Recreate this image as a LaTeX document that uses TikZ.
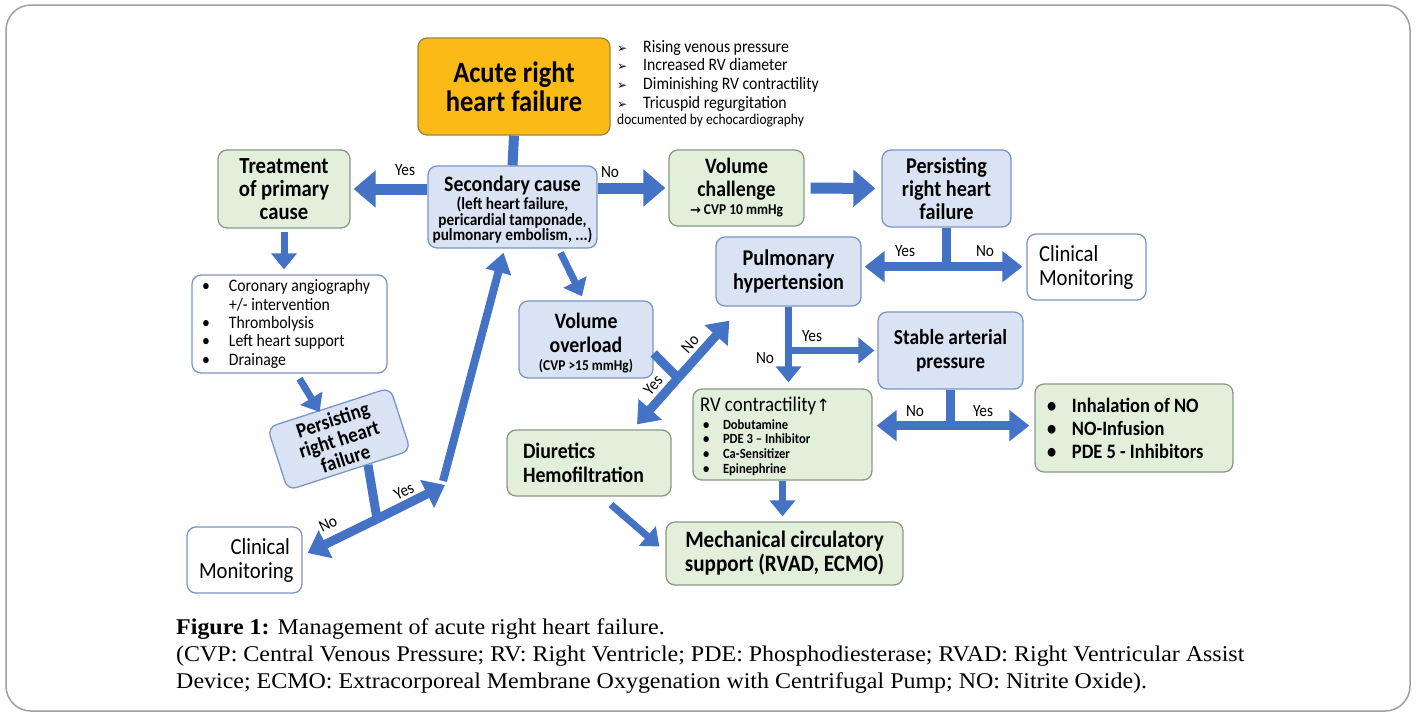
\documentclass[tikz,border=0pt]{standalone}
\usepackage{fontspec}
\setmainfont[FakeStretch=0.9]{Carlito}
\newfontfamily\capfont[FakeStretch=1.065]{Liberation Serif}
\newfontfamily\symfont{DejaVu Sans}
\usetikzlibrary{arrows.meta,calc}

\definecolor{arrblue}{HTML}{4472C4}
\definecolor{boxblue}{HTML}{DAE3F3}
\definecolor{lineblue}{HTML}{7A96C4}
\definecolor{boxgreen}{HTML}{E2EFDA}
\definecolor{linegreen}{HTML}{8A9A86}
\definecolor{boxorange}{HTML}{FBBA16}
\definecolor{lineorange}{HTML}{9A8642}

\newcommand{\fsz}[2]{\fontsize{#1}{#2}\selectfont}
\newcommand{\sgn}{\makebox[26pt][l]{\symfont\fsz{12}{12}➢}}
\newcommand{\bul}[1]{\makebox[#1][l]{\hspace{3pt}•}}

\tikzset{
box/.style={draw, rounded corners=9pt, line width=1.3pt, align=center,
  inner sep=2pt},
bluebox/.style={box, fill=boxblue, draw=lineblue},
greenbox/.style={box, fill=boxgreen, draw=linegreen},
whitebox/.style={box, fill=white, draw=lineblue},
bigarr/.style={draw=arrblue, line width=11pt, -{Triangle[length=22pt,width=36pt]}},
tarr/.style={draw=arrblue, line width=9pt, -{Triangle[length=20pt,width=30pt]}},
longarr/.style={draw=arrblue, line width=8pt, -{Triangle[length=20pt,width=25pt]}},
smallarr/.style={draw=arrblue, line width=7pt, -{Triangle[length=16pt,width=25pt]}},
stem/.style={draw=arrblue, line width=9pt},
lbl/.style={font=\fsz{17}{18}, inner sep=0pt}
}

\begin{document}
\begin{tikzpicture}[x=1pt, y=-1pt]
\useasboundingbox (0,0) rectangle (1416,713);
\draw[gray!75, line width=1.5pt, rounded corners=25pt] (6,5) rectangle (1410,711);

% boxes
\node[box, fill=boxorange, draw=lineorange, minimum width=192pt, minimum height=97pt,
  font=\bfseries\fsz{29.5}{29}] (acute) at (514,86.5) {Acute right\\heart failure};
\node[anchor=north west, align=flush left, inner sep=0pt, font=\fsz{17.5}{18.7}] (signs) at (617,40)
  {\sgn Rising venous pressure\\ \sgn Increased RV diameter\\
   \sgn Diminishing RV contractility\\ \sgn Tricuspid regurgitation\\[-3pt]
   {\fsz{15}{16}documented by echocardiography}};
\node[bluebox, minimum width=169pt, minimum height=82pt, font=\bfseries\fsz{17}{15.5}]
  (secondary) at (512.5,207)
  {\mbox{}\\[6pt]{\fsz{22}{22}Secondary cause}\\[1pt]
   (left heart failure,\\pericardial tamponade,\\pulmonary embolism, ...)};
\node[greenbox, minimum width=132pt, minimum height=78pt, font=\bfseries\fsz{23}{23}]
  (treat) at (284,189) {Treatment\\of primary\\cause};
\node[whitebox, minimum width=195pt, minimum height=98pt, align=flush left, text width=181pt,
  inner xsep=7pt, font=\fsz{17.5}{18.3}] (coronary) at (289.5,324)
  {\bul{30pt}Coronary angiography\\ \hspace*{30pt}+/- intervention\\
   \bul{30pt}Thrombolysis\\ \bul{30pt}Left heart support\\ \bul{30pt}Drainage};
\node[bluebox, rotate=18, minimum width=129pt, minimum height=66pt, inner sep=0pt,
  font=\bfseries\fsz{21}{20.5}] (pers1) at (339,439) {Persisting\\right heart\\failure};
\node[whitebox, minimum width=115pt, minimum height=66pt, align=flush right, text width=91pt,
  inner xsep=12pt, font=\fsz{23}{24}] (clin1) at (244.5,560) {Clinical\\Monitoring};
\node[greenbox, minimum width=135pt, minimum height=76pt, font=\bfseries\fsz{22}{23}]
  (volch) at (736.5,188)
  {Volume\\challenge\\[-5pt]{\fsz{15}{15}{\symfont\bfseries\fsz{13}{15}→} CVP 10 mmHg}};
\node[bluebox, minimum width=129pt, minimum height=77pt, font=\bfseries\fsz{22.5}{23}]
  (pers2) at (946.5,188.5) {Persisting\\right heart\\failure};
\node[bluebox, minimum width=145pt, minimum height=69pt, font=\bfseries\fsz{22.5}{24}]
  (pulm) at (788.5,271.5) {Pulmonary\\hypertension};
\node[whitebox, minimum width=119pt, minimum height=66pt, align=flush left, text width=95pt,
  inner xsep=12pt, font=\fsz{23}{24}] (clin2) at (1086.5,267) {Clinical\\Monitoring};
\node[bluebox, minimum width=134pt, minimum height=77pt, font=\bfseries\fsz{22}{24}]
  (volov) at (586,339.5)
  {\mbox{}\\[-1.5pt]Volume\\overload\\[-6pt]{\fsz{15}{15}(CVP >15 mmHg)}};
\node[bluebox, minimum width=145pt, minimum height=77pt, font=\bfseries\fsz{21.5}{24}]
  (stable) at (950.5,350.5) {Stable arterial\\pressure};
\node[greenbox, minimum width=179pt, minimum height=91pt, align=flush left, text width=165pt,
  inner xsep=7pt, font=\bfseries\fsz{14}{14.7}] (rvc) at (782.5,434.5)
  {\mbox{}\\[3pt]{\mdseries\fsz{21}{20}RV contractility{\symfont\fsz{17}{20}↑}}\\[3pt]
   \bul{23pt}Dobutamine\\ \bul{23pt}PDE 3 – Inhibitor\\
   \bul{23pt}Ca-Sensitizer\\ \bul{23pt}Epinephrine};
\node[greenbox, minimum width=198pt, minimum height=88pt, align=flush left, text width=180pt,
  inner xsep=9pt, font=\bfseries\fsz{20.5}{23}] (inhal) at (1134,428)
  {\bul{28pt}Inhalation of NO\\ \bul{28pt}NO-Infusion\\ \bul{28pt}PDE 5 - Inhibitors};
\node[greenbox, minimum width=158pt, minimum height=66pt, align=flush left, text width=132pt,
  inner xsep=16pt, font=\bfseries\fsz{22}{24}] (diur) at (589,463)
  {Diuretics\\Hemofiltration};
\node[greenbox, minimum width=237pt, minimum height=63pt, font=\bfseries\fsz{23.5}{24}]
  (mech) at (784.5,553.5) {Mechanical circulatory\\support (RVAD, ECMO)};

% connectors
\draw[stem, line width=10pt] (acute.south) -- (secondary.north);
\draw[bigarr] (secondary.west |- treat) -- ([xshift=3pt]treat.east);
\draw[bigarr] (secondary.east |- volch) -- ([xshift=-3pt]volch.west);
\node[lbl] at (405,170) {Yes};
\node[lbl] at (610,172) {No};
\draw[bigarr, shorten <=6pt, shorten >=6pt] (volch.east) -- (pers2.west);
\draw[smallarr, shorten <=3pt, shorten >=5pt] (treat.south) -- (treat.south |- coronary.north);
\draw[smallarr] ([shift={(10,5)}]coronary.south) -- ([shift={(-9,5)}]pers1.north);

\coordinate (nojct) at (377,519);
\coordinate (yesend) at (445,485);
\draw[stem] ($(pers1.south)!0.3!(pers1.south east)$) -- (nojct);
\draw[tarr] (nojct) -- ([shift={(5,-7)}]clin1.east);
\draw[tarr] (nojct) -- (yesend);
\draw[longarr] ([shift={(-2,-4)}]yesend) -- ([shift={(-9,4)}]secondary.south);
\node[lbl, rotate=26] at (328,524) {No};
\node[lbl, rotate=26] at (404,491) {Yes};

\draw[smallarr] ([shift={(48,4)}]secondary.south) -- ([shift={(-4,-4)}]volov.north);

\coordinate (pj) at ($(pers2.south)+(0,39)$);
\draw[stem] (pers2.south) -- (pj);
\draw[tarr, shorten >=3pt] (pj) -- (pulm.east |- pj);
\draw[tarr, shorten >=4pt] (pj) -- (clin2.west |- pj);
\node[lbl] at (905,251) {Yes};
\node[lbl] at (985,251) {No};

\coordinate (vj) at (678,378);
\draw[stem] ([shift={(0,14)}]volov.east) -- (vj);
\draw[tarr] (vj) -- ([shift={(48,-5)}]diur.north);
\draw[tarr] (vj) -- ([shift={(14,14)}]pulm.south west);
\node[lbl, rotate=48] at (653,385) {Yes};
\node[lbl, rotate=48] at (690,344) {No};

\coordinate (ps) at (pulm.south |- stable);
\draw[smallarr, shorten >=6pt] (pulm.south) -- (pulm.south |- rvc.north);
\draw[smallarr, shorten >=3pt] (ps) -- (stable.west |- ps);
\node[lbl] at (812,336) {Yes};
\node[lbl] at (765,358) {No};

\coordinate (sj) at ($(stable.south)+(0,36)$);
\draw[stem] (stable.south) -- (sj);
\draw[tarr, shorten >=4pt] (sj) -- (rvc.east |- sj);
\draw[tarr, shorten >=5pt] (sj) -- (inhal.west |- sj);
\node[lbl] at (915,411) {No};
\node[lbl] at (983,411) {Yes};

\draw[smallarr, shorten >=5pt] (rvc.south) -- (rvc.south |- mech.north);
\draw[smallarr] ([shift={(22,8)}]diur.south) -- ([shift={(-6,-7)}]mech.west);

% caption
\node[anchor=base west, inner sep=0pt, font=\capfont\fsz{22.5}{27}] (cap1) at (176,634)
  {\textbf{Figure 1:} Management of acute right heart failure.};
\node[anchor=base west, inner sep=0pt, font=\capfont\fsz{22.5}{27}] (cap2) at (176,661)
  {(CVP: Central Venous Pressure; RV: Right Ventricle; PDE: Phosphodiesterase; RVAD: Right Ventricular Assist};
\node[anchor=base west, inner sep=0pt, font=\capfont\fsz{22.5}{27}] (cap3) at (176,688)
  {Device; ECMO: Extracorporeal Membrane Oxygenation with Centrifugal Pump; NO: Nitrite Oxide).};
\end{tikzpicture}
\end{document}
